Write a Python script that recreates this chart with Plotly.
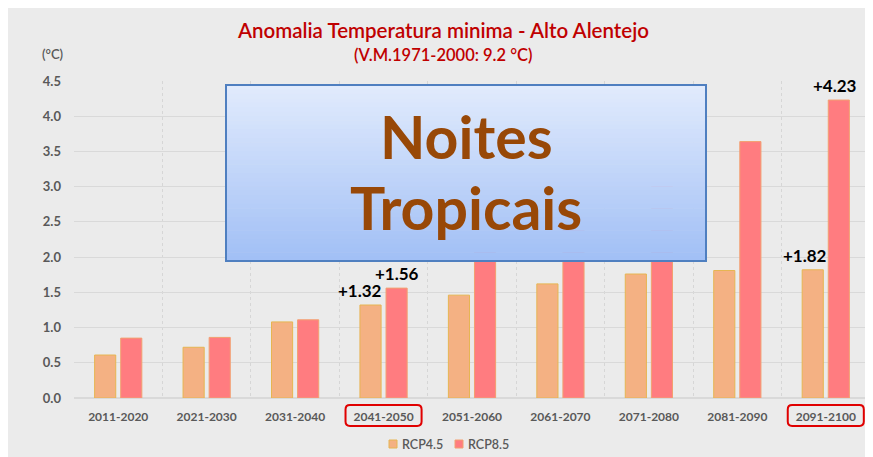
import plotly.graph_objects as go

periods = ["2011-2020", "2021-2030", "2031-2040", "2041-2050", "2051-2060",
           "2061-2070", "2071-2080", "2081-2090", "2091-2100"]
rcp45 = [0.61, 0.72, 1.08, 1.32, 1.46, 1.62, 1.76, 1.81, 1.82]
rcp85 = [0.85, 0.86, 1.11, 1.56, 2.25, 2.65, 3.15, 3.64, 4.23]
y_ticks = [0.0, 0.5, 1.0, 1.5, 2.0, 2.5, 3.0, 3.5, 4.0, 4.5]
highlight = ["2041-2050", "2091-2100"]
series_names = ["RCP4.5", "RCP8.5"]
fill_colors = ["#F4B183", "#FF7C80"]
edge_colors = ["#E6B552", "#F2A070"]

# page has an 8px body margin, so screen px = figure px + 8
OFF = 8
W, H = 873, 457
L, T = 74 - OFF, 81 - OFF
PW, PH = 796, 317
R, B = W - L - PW, H - T - PH
FONT = "Lato"


def px_x(p):
    return (p - OFF - L) / PW


def px_y(p):
    return (T + PH - (p - OFF)) / PH


fig = go.Figure()
for name, vals, fc, ec in zip(series_names, [rcp45, rcp85], fill_colors, edge_colors):
    fig.add_trace(go.Bar(x=periods, y=vals, name=name,
                         marker=dict(color=fc, line=dict(color=ec, width=1))))

shapes = []

# gradient box "Noites Tropicais"
bx0, bx1, by0, by1 = 226, 706, 85, 261
n = 40
top = (0xE1, 0xEB, 0xFD)
bot = (0xA2, 0xC0, 0xF6)
for i in range(n):
    t = i / (n - 1)
    c = tuple(int(top[k] + (bot[k] - top[k]) * t) for k in range(3))
    ya = by0 + (by1 - by0) * i / n
    yb = by0 + (by1 - by0) * (i + 1) / n + 0.6
    shapes.append(dict(type="rect", xref="paper", yref="paper", x0=px_x(bx0), x1=px_x(bx1),
                       y0=px_y(yb), y1=px_y(ya), fillcolor="rgb(%d,%d,%d)" % c,
                       line_width=0, layer="above"))
shapes.append(dict(type="rect", xref="paper", yref="paper", x0=px_x(bx0), x1=px_x(bx1),
                   y0=px_y(by1), y1=px_y(by0), line=dict(color="#4F7FC0", width=2),
                   layer="above"))

# red rounded boxes around highlighted tick labels
rx, ry = 0.05, 0.014
for p in highlight:
    i = periods.index(p)
    x0, x1 = i - 0.43, i + 0.43
    y0, y1 = px_y(426), px_y(405)
    path = (f"M {x0+rx},{y0} L {x1-rx},{y0} Q {x1},{y0} {x1},{y0+ry} "
            f"L {x1},{y1-ry} Q {x1},{y1} {x1-rx},{y1} L {x0+rx},{y1} "
            f"Q {x0},{y1} {x0},{y1-ry} L {x0},{y0+ry} Q {x0},{y0} {x0+rx},{y0} Z")
    shapes.append(dict(type="path", xref="x", yref="paper", path=path,
                       line=dict(color="#E00000", width=2)))

annotations = [
    dict(text="Anomalia Temperatura minima - Alto Alentejo", x=px_x(443), y=px_y(30),
         font=dict(family=FONT, size=20.5, color="#C00000", weight=600)),
    dict(text="(V.M.1971-2000: 9.2 °C)", x=px_x(443), y=px_y(55),
         font=dict(family=FONT, size=16.5, color="#C00000", weight=600)),
    dict(text="(°C)", x=px_x(52), y=px_y(54),
         font=dict(family=FONT, size=13, color="#595959", weight=600)),
    dict(text="Noites", x=px_x(466), y=px_y(136),
         font=dict(family=FONT, size=59, color="#984807", weight="bold")),
    dict(text="Tropicais", x=px_x(466), y=px_y(207),
         font=dict(family=FONT, size=59, color="#984807", weight="bold")),
]
for a in annotations:
    a.update(xref="paper", yref="paper", xanchor="center", yanchor="middle", showarrow=False)

# legend drawn by hand to match the compact spacing
for name, fc, ec, sx in zip(series_names, fill_colors, edge_colors, [389, 455]):
    shapes.append(dict(type="rect", xref="paper", yref="paper", x0=px_x(sx), x1=px_x(sx + 8),
                       y0=px_y(448), y1=px_y(440), fillcolor=fc, line=dict(color=ec, width=1)))
    annotations.append(dict(text=name, xref="paper", yref="paper", x=px_x(sx + 11), y=px_y(444),
                            xanchor="left", yanchor="middle", showarrow=False,
                            font=dict(family=FONT, size=12.5, color="#595959", weight=600)))

# value labels
labels = [(3, rcp45, -24), (3, rcp85, 13), (8, rcp45, -21), (8, rcp85, 9)]
for i, series, dx in labels:
    annotations.append(dict(text="+%.2f" % series[i], x=periods[i], y=series[i], xref="x", yref="y",
                            xshift=dx, yshift=2, xanchor="center", yanchor="bottom", showarrow=False,
                            font=dict(family=FONT, size=17, color="black", weight="bold")))

fig.update_layout(
    width=W, height=H,
    margin=dict(l=L, r=R, t=T, b=B),
    paper_bgcolor="#EBEBEB", plot_bgcolor="#EBEBEB",
    barmode="group", bargap=0.41, bargroupgap=0.19,
    shapes=shapes, annotations=annotations,
    showlegend=False,
    xaxis=dict(tickson="boundaries", showgrid=True, gridcolor="#D6D6D6", griddash="dot",
               gridwidth=1, ticks="", showline=False, ticklabelstandoff=10,
               tickfont=dict(family=FONT, size=12, color="#595959", weight="bold")),
    yaxis=dict(range=[0, 4.5], tickvals=y_ticks, tickformat=".1f", showgrid=True,
               gridcolor="#D9D9D9", gridwidth=1, zeroline=True, zerolinecolor="#D9D9D9",
               showline=False, ticks="", ticklabelstandoff=12,
               tickfont=dict(family=FONT, size=13, color="#595959", weight="bold")),
)

fig.write_html("out.html")
